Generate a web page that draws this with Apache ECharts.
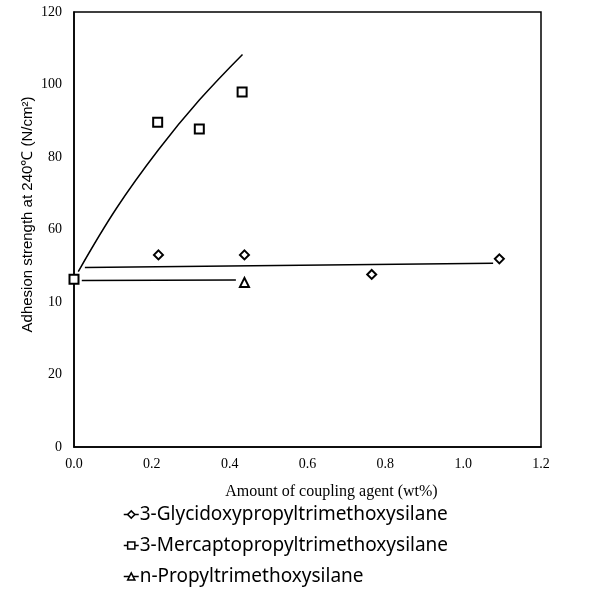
<!DOCTYPE html>
<html>
<head>
<meta charset="utf-8">
<script src="https://cdn.jsdelivr.net/npm/echarts@6/dist/echarts.min.js"></script>
<style>
  html, body { margin: 0; padding: 0; background: #fff; }
  #chart { width: 611px; height: 589px; }
</style>
</head>
<body>
<div id="chart"></div>
<script>
// tick labels as printed (the 40 tick really reads "10" in the figure)
const yTickLabels = ['0', '20', '10', '60', '80', '100', '120']

const seriesNames = [
  '3-Glycidoxypropyltrimethoxysilane',
  '3-Mercaptopropyltrimethoxysilane',
  'n-Propyltrimethoxysilane'
]

// measured points
const glyX = [0.217, 0.438, 0.765, 1.093]
const glyY = [53.0, 53.0, 47.6, 51.9]
const merX = [0.0, 0.215, 0.322, 0.432]
const merY = [46.3, 89.6, 87.7, 97.9]
const proX = [0.438]
const proY = [45.4]

// fitted lines
const glyFitX = [0.028, 1.077]
const glyFitY = [49.5, 50.7]
const merFitX = [0.011, 0.11, 0.217, 0.322, 0.433]
const merFitY = [48.4, 66.0, 82.0, 95.7, 108.3]
const proFitX = [0.020, 0.416]
const proFitY = [45.9, 46.1]

const zip = (xs, ys) => xs.map((x, i) => [x, ys[i]])

const chart = echarts.init(document.getElementById('chart'))

const pointSeries = (name, symbol, xs, ys) => ({
  name: name,
  type: 'line',
  symbol: symbol,
  symbolSize: 9,
  showSymbol: true,
  lineStyle: { width: 0, color: '#000' },
  itemStyle: { color: '#fff', borderColor: '#000', borderWidth: 2 },
  z: 5,
  data: zip(xs, ys)
})

const fitSeries = (xs, ys, smooth) => ({
  type: 'line',
  symbol: 'none',
  smooth: smooth,
  lineStyle: { color: '#000', width: 1.5 },
  z: 2,
  data: zip(xs, ys)
})

const option = {
  backgroundColor: '#fff',
  animation: false,
  grid: {
    left: 74,
    right: 70,
    top: 12,
    bottom: 142,
    show: true,
    borderColor: '#000',
    borderWidth: 1.5
  },
  xAxis: {
    type: 'value',
    min: 0,
    max: 1.2,
    interval: 0.2,
    name: 'Amount of coupling agent (wt%)',
    nameLocation: 'middle',
    nameGap: 37,
    nameTextStyle: { color: '#000', fontFamily: 'Liberation Serif', fontSize: 16, padding: [0, 0, 0, 48] },
    axisLine: { lineStyle: { color: '#000', width: 1.5 } },
    axisTick: { show: false },
    splitLine: { show: false },
    axisLabel: {
      color: '#000',
      fontFamily: 'Liberation Serif',
      fontSize: 14,
      margin: 10,
      formatter: v => v.toFixed(1)
    }
  },
  yAxis: {
    type: 'value',
    min: 0,
    max: 120,
    interval: 20,
    name: 'Adhesion strength at 240\u2103 (N/cm\u00b2)',
    nameLocation: 'middle',
    nameGap: 39,
    nameMoveOverlap: false,
    nameTextStyle: { color: '#000', fontFamily: 'Liberation Sans', fontSize: 15, padding: [0, 0, 0, 30] },
    axisLine: { lineStyle: { color: '#000', width: 1.5 } },
    axisTick: { show: false },
    splitLine: { show: false },
    axisLabel: {
      color: '#000',
      fontFamily: 'Liberation Serif',
      fontSize: 14,
      margin: 12,
      formatter: v => yTickLabels[Math.round(v / 20)]
    }
  },
  legend: {
    orient: 'vertical',
    left: 118,
    top: 500,
    height: 88,
    itemGap: 12,
    itemWidth: 15,
    itemHeight: 9,
    data: seriesNames,
    textStyle: { color: '#000', fontFamily: 'Noto Sans', fontSize: 19, padding: [0, 0, 0, -4] },
    lineStyle: { width: 1.5, color: '#000', opacity: 1 },
    itemStyle: { borderWidth: 1.5, borderColor: '#000', color: '#fff' }
  },
  series: [
    pointSeries(seriesNames[0], 'diamond', glyX, glyY),
    pointSeries(seriesNames[1], 'rect', merX, merY),
    pointSeries(seriesNames[2], 'triangle', proX, proY),
    fitSeries(glyFitX, glyFitY, false),
    fitSeries(merFitX, merFitY, 0.4),
    fitSeries(proFitX, proFitY, false)
  ]
}

chart.setOption(option)
</script>
</body>
</html>
